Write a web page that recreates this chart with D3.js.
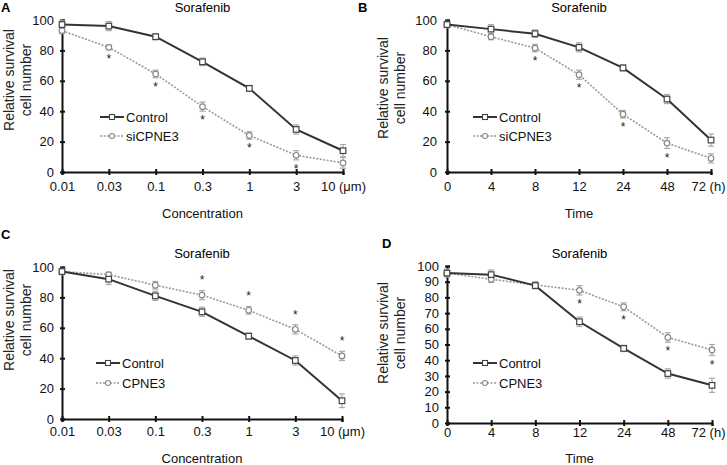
<!DOCTYPE html>
<html>
<head>
<meta charset="utf-8">
<script src="https://cdn.jsdelivr.net/npm/d3@7"></script>
<style>
  body { margin: 0; background: #fff; }
  svg { font-family: "Liberation Sans", Arial, sans-serif; }
</style>
</head>
<body>
<svg id="chart" width="727" height="465"></svg>
<script>
// Tick labels
const concLabels = ["0.01", "0.03", "0.1", "0.3", "1", "3", "10 (μm)"];
const timeLabels = ["0", "4", "8", "12", "24", "48", "72 (h)"];

// Panel A: concentration, knockdown
const aControl = [97, 96, 89, 72.5, 55, 28, 14];
const aControlErr = [2.5, 3, 2, 2.5, 2, 3, 4];
const aSi = [93, 82, 64.5, 43, 24, 11, 6];
const aSiErr = [2, 1.5, 2.5, 3, 2.5, 3, 3.5];
const aStars = [1, 2, 3, 4, 5];

// Panel B: time, knockdown
const bControl = [97, 94, 91, 82, 68.5, 48, 21];
const bControlErr = [2, 3, 2.5, 3, 2, 3, 4];
const bSi = [97, 89, 81.5, 64, 38, 19, 9];
const bSiErr = [2, 2, 2.5, 3, 2.5, 3.5, 3];
const bStars = [2, 3, 4, 5];

// Panel C: concentration, overexpression
const cControl = [97, 92, 81, 70.5, 54.5, 38.5, 12];
const cControlErr = [2, 3.5, 3, 3, 2, 3, 4.5];
const cOver = [97, 95, 88, 81.5, 71.5, 59, 41.5];
const cOverErr = [2, 1.5, 2.5, 3, 2.5, 3, 3];
const cStars = [3, 4, 5, 6];

// Panel D: time, overexpression
const dControl = [95.5, 94.5, 87.5, 64.5, 47.5, 31.5, 24];
const dControlErr = [2.5, 3, 2, 3, 2, 3, 4.5];
const dOver = [95.5, 91.5, 88, 84.5, 74, 54.5, 46.5];
const dOverErr = [2, 2, 2, 3, 2.5, 3, 3.5];
const dStars = [3, 4, 5, 6];

const svg = d3.select("#chart");

function drawPanel(opt) {
  const g = svg.append("g");
  const x = d3.scalePoint().domain(d3.range(7)).range([opt.x0, opt.x1]);
  const y = d3.scaleLinear().domain([0, 100]).range([opt.yBottom, opt.yTop]);
  const xc = (opt.x0 + opt.x1) / 2;

  // panel letter and title
  g.append("text").attr("x", opt.letterX).attr("y", opt.letterY)
    .attr("font-size", 13).attr("font-weight", "bold").text(opt.letter);
  g.append("text").attr("x", xc).attr("y", opt.titleY)
    .attr("font-size", 13).attr("text-anchor", "middle").text("Sorafenib");

  // y label (two lines)
  g.append("text").attr("transform", `translate(${opt.yLabelX},${opt.yLabelY}) rotate(-90)`)
    .attr("font-size", 14).attr("text-anchor", "middle").attr("fill", "#222").text("Relative survival");
  g.append("text").attr("transform", `translate(${opt.yLabelX + 17},${opt.yLabelY}) rotate(-90)`)
    .attr("font-size", 14).attr("text-anchor", "middle").attr("fill", "#222").text("cell number");

  // axes
  const yAxis = g.append("g").attr("transform", `translate(${opt.x0},0)`)
    .call(d3.axisLeft(y).tickValues(opt.yTicks).tickSize(-3).tickPadding(opt.yPad));
  yAxis.selectAll("text").attr("font-size", 13).attr("fill", "#111").attr("font-family", "Liberation Sans, Arial");
  const xAxis = g.append("g").attr("transform", `translate(0,${opt.yBottom})`)
    .call(d3.axisBottom(x).tickSize(3).tickFormat(i => opt.labels[i]).tickPadding(opt.xPad));
  xAxis.selectAll("text").attr("font-size", 13).attr("fill", "#111").attr("font-family", "Liberation Sans, Arial")
    .attr("dx", i => i === 6 ? opt.lastDx : 0);
  [yAxis, xAxis].forEach(a => {
    a.select(".domain").attr("stroke", "#111").attr("stroke-width", 2);
    a.selectAll(".tick line").attr("stroke", "#111").attr("stroke-width", 2);
  });
  yAxis.selectAll(".tick line").attr("x1", -2).attr("x2", 3);
  xAxis.selectAll(".tick line").attr("y1", -3).attr("y2", 3);

  g.append("text").attr("x", xc).attr("y", opt.xTitleY)
    .attr("font-size", 13).attr("text-anchor", "middle").attr("fill", "#111").text(opt.xTitle);

  const line = d3.line().x((d, i) => x(i)).y(d => y(d));

  // error bars
  function errBars(vals, errs) {
    const eb = g.append("g").attr("stroke", "#aaa").attr("stroke-width", 1.2);
    vals.forEach((v, i) => {
      eb.append("line").attr("x1", x(i)).attr("x2", x(i)).attr("y1", y(v - errs[i])).attr("y2", y(v + errs[i]));
      eb.append("line").attr("x1", x(i) - 3).attr("x2", x(i) + 3).attr("y1", y(v - errs[i])).attr("y2", y(v - errs[i]));
      eb.append("line").attr("x1", x(i) - 3).attr("x2", x(i) + 3).attr("y1", y(v + errs[i])).attr("y2", y(v + errs[i]));
    });
  }
  errBars(opt.test, opt.testErr);
  errBars(opt.control, opt.controlErr);

  // test series (dotted)
  g.append("path").datum(opt.test).attr("d", line).attr("fill", "none")
    .attr("stroke", "#999").attr("stroke-width", 1.6).attr("stroke-dasharray", "2,1.5");
  g.selectAll(null).data(opt.test).join("circle")
    .attr("cx", (d, i) => x(i)).attr("cy", d => y(d)).attr("r", 2.8)
    .attr("fill", "#fff").attr("stroke", "#888").attr("stroke-width", 1.2);

  // control series
  g.append("path").datum(opt.control).attr("d", line).attr("fill", "none")
    .attr("stroke", "#333").attr("stroke-width", 2);
  g.selectAll(null).data(opt.control).join("rect")
    .attr("x", (d, i) => x(i) - 2.8).attr("y", d => y(d) - 2.8).attr("width", 5.6).attr("height", 5.6)
    .attr("fill", "#fff").attr("stroke", "#444").attr("stroke-width", 1.2);

  // asterisks
  opt.stars.forEach(i => {
    const v = opt.starAbove ? opt.test[i] + opt.testErr[i] + 4 : opt.test[i] - opt.testErr[i] - 4;
    g.append("text").attr("x", x(i)).attr("y", y(v) + (opt.starAbove ? 0 : 7))
      .attr("font-size", 12).attr("text-anchor", "middle").attr("fill", "#222").text("*");
  });

  // legend
  const lx = opt.legendX, ly = opt.legendY;
  const lg = g.append("g");
  lg.append("line").attr("x1", lx).attr("x2", lx + 24).attr("y1", ly).attr("y2", ly)
    .attr("stroke", "#333").attr("stroke-width", 2);
  lg.append("rect").attr("x", lx + 9.5).attr("y", ly - 2.5).attr("width", 5).attr("height", 5)
    .attr("fill", "#fff").attr("stroke", "#444").attr("stroke-width", 1.1);
  lg.append("text").attr("x", lx + 26).attr("y", ly + 5).attr("font-size", 13).attr("fill", "#111").text("Control");
  const ly2 = ly + opt.legendGap;
  lg.append("line").attr("x1", lx).attr("x2", lx + 24).attr("y1", ly2).attr("y2", ly2)
    .attr("stroke", "#999").attr("stroke-width", 1.4).attr("stroke-dasharray", "2,1.5");
  lg.append("circle").attr("cx", lx + 12).attr("cy", ly2).attr("r", 2.5)
    .attr("fill", "#fff").attr("stroke", "#888").attr("stroke-width", 1.1);
  lg.append("text").attr("x", lx + 26).attr("y", ly2 + 5).attr("font-size", 13).attr("fill", "#111").text(opt.testName);
}

drawPanel({
  letter: "A", letterX: 1, letterY: 12, x0: 62, x1: 343, yTop: 20, yBottom: 172,
  titleY: 12, yLabelX: 14, yLabelY: 80, yPad: 8, xPad: 7, xTitleY: 218, lastDx: 0,
  yTicks: [0, 20, 40, 60, 80, 100], labels: concLabels, xTitle: "Concentration",
  control: aControl, controlErr: aControlErr, test: aSi, testErr: aSiErr,
  stars: aStars, starAbove: false, testName: "siCPNE3", legendX: 100, legendY: 117, legendGap: 19
});
drawPanel({
  letter: "B", letterX: 358, letterY: 12, x0: 447, x1: 711, yTop: 20, yBottom: 172,
  titleY: 12, yLabelX: 388, yLabelY: 88, yPad: 10, xPad: 7, xTitleY: 218, lastDx: -3,
  yTicks: [0, 20, 40, 60, 80, 100], labels: timeLabels, xTitle: "Time",
  control: bControl, controlErr: bControlErr, test: bSi, testErr: bSiErr,
  stars: bStars, starAbove: false, testName: "siCPNE3", legendX: 473, legendY: 117, legendGap: 19
});
drawPanel({
  letter: "C", letterX: 1, letterY: 239, x0: 62, x1: 342, yTop: 267, yBottom: 419,
  titleY: 258, yLabelX: 14, yLabelY: 320, yPad: 8, xPad: 5, xTitleY: 463, lastDx: 0,
  yTicks: [0, 20, 40, 60, 80, 100], labels: concLabels, xTitle: "Concentration",
  control: cControl, controlErr: cControlErr, test: cOver, testErr: cOverErr,
  stars: cStars, starAbove: true, testName: "CPNE3", legendX: 96, legendY: 363, legendGap: 20
});
drawPanel({
  letter: "D", letterX: 382, letterY: 248, x0: 447, x1: 712, yTop: 266, yBottom: 423,
  titleY: 258, yLabelX: 388, yLabelY: 333, yPad: 8, xPad: 2, xTitleY: 463, lastDx: -4,
  yTicks: d3.range(0, 101, 10), labels: timeLabels, xTitle: "Time",
  control: dControl, controlErr: dControlErr, test: dOver, testErr: dOverErr,
  stars: dStars, starAbove: false, testName: "CPNE3", legendX: 473, legendY: 363, legendGap: 20
});
</script>
</body>
</html>
